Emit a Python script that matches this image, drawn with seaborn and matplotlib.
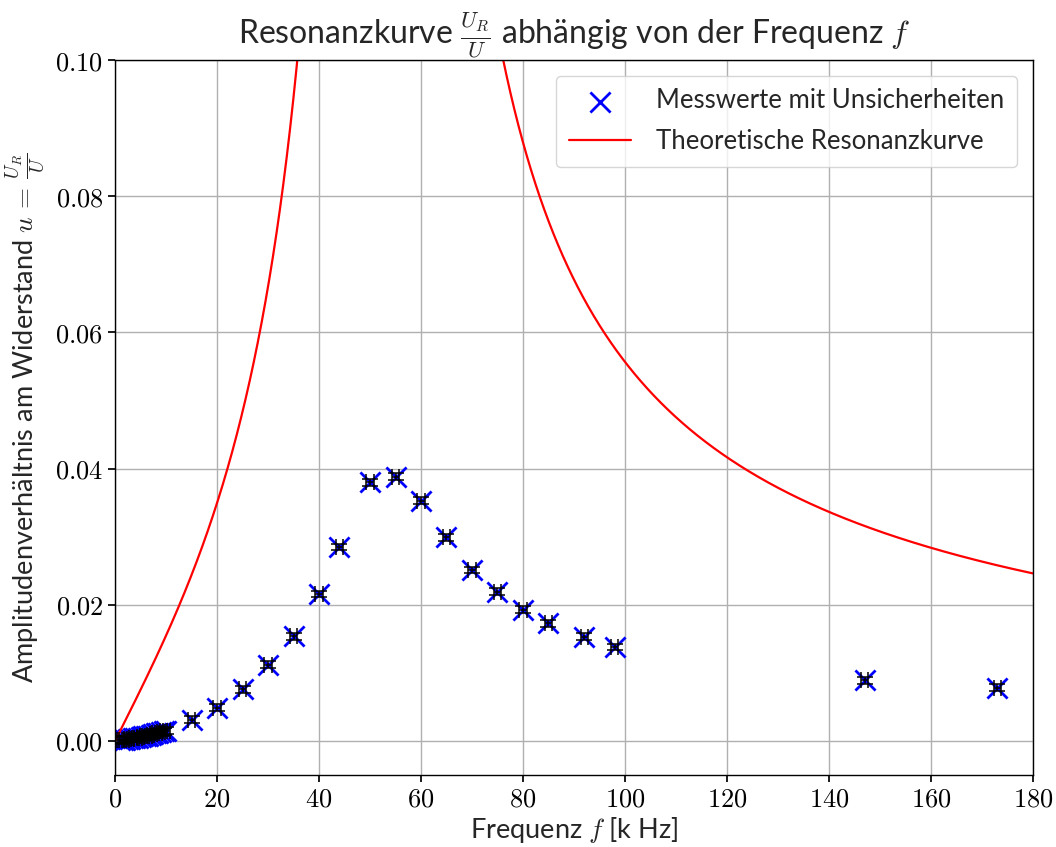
import numpy as np
import matplotlib
matplotlib.use("Agg")
import matplotlib.pyplot as plt
import seaborn as sns

# Measured frequencies [kHz] and amplitude ratios u = U_R / U
freq_khz = [1.0, 1.5, 2.0, 2.5, 3.0, 3.5, 4.0, 4.5, 5.0, 5.5, 6.0, 6.5, 7.0,
            7.5, 8.0, 8.5, 9.0, 9.5, 10.0,
            15, 20, 25, 30, 35, 40, 44, 50, 55, 60, 65, 70, 75, 80, 85, 92, 98,
            147, 173]
ratio_u = [0.0001, 0.0002, 0.0002, 0.0003, 0.0003, 0.0004, 0.0005, 0.0005,
           0.0006, 0.0007, 0.0008, 0.0008, 0.0009, 0.0010, 0.0011, 0.0012,
           0.0013, 0.0014, 0.0015,
           0.0031, 0.0049, 0.0076, 0.0112, 0.0154, 0.0216, 0.0285, 0.0380,
           0.0388, 0.0353, 0.0299, 0.0251, 0.0219, 0.0193, 0.0173, 0.0153,
           0.0138, 0.0089, 0.0078]

# Uncertainties of frequency [kHz] and ratio
freq_err = 0.7
ratio_err = 0.0005

# Circuit parameters of the series RLC resonator
R_ohm = 50.0
L_henry = 1.96e-3
C_farad = 4.75e-9

x_ticks = [0, 20, 40, 60, 80, 100, 120, 140, 160, 180]
y_ticks = [0.00, 0.02, 0.04, 0.06, 0.08, 0.10]

sns.set_theme(style="ticks", rc={
    "axes.grid": True,
    "grid.color": "#b0b0b0",
    "grid.linewidth": 1.0,
    "axes.edgecolor": "black",
    "axes.linewidth": 1.0,
    "xtick.color": "black",
    "ytick.color": "black",
    "xtick.direction": "out",
    "ytick.direction": "out",
    "xtick.major.size": 5,
    "ytick.major.size": 5,
})
plt.rcParams["font.family"] = ["Lato", "DejaVu Sans"]
plt.rcParams["mathtext.fontset"] = "cm"

fig = plt.figure(figsize=(10.56, 8.47), dpi=100)
ax = fig.add_axes([0.109, 0.085, 0.869, 0.844])

# Theoretical resonance curve u(f) = R / |Z(f)|
f_theo = np.linspace(0.05, 180, 3000)
omega = 2 * np.pi * f_theo * 1e3
u_theo = R_ohm / np.sqrt(R_ohm**2 + (omega * L_henry - 1 / (omega * C_farad))**2)

sns.scatterplot(x=freq_khz, y=ratio_u, marker="x", color="blue", s=210,
                linewidth=2.0, ax=ax, zorder=2,
                label="Messwerte mit Unsicherheiten")
ax.errorbar(freq_khz, ratio_u, xerr=freq_err, yerr=ratio_err, fmt="none",
            ecolor="black", elinewidth=1.1, capsize=5.5, capthick=1.1, zorder=3)
sns.lineplot(x=f_theo, y=u_theo, color="red", linewidth=1.6, ax=ax,
             sort=False, zorder=2, label="Theoretische Resonanzkurve")

ax.set_xlim(0, 180)
ax.set_ylim(-0.005, 0.1)
ax.set_xticks(x_ticks)
ax.set_yticks(y_ticks)
ax.set_xticklabels([f"${t}$" for t in x_ticks], fontsize=19)
ax.set_yticklabels([f"${t:.2f}$" for t in y_ticks], fontsize=19)

ax.set_title(r"Resonanzkurve $\frac{U_R}{U}$ abhängig von der Frequenz $f$",
             fontsize=23, pad=8)
ax.set_xlabel(r"Frequenz $f$ [k Hz]", fontsize=19.5, labelpad=2)
ax.set_ylabel(r"Amplitudenverhältnis am Widerstand $u\,=\,\frac{U_R}{U}$",
              fontsize=19.5, labelpad=6)

leg = ax.legend(loc="upper right", fontsize=18.5, frameon=True, fancybox=True,
                edgecolor="#cccccc", framealpha=0.8, borderaxespad=0.6,
                handlelength=2.4, handletextpad=1.0, labelspacing=0.6,
                borderpad=0.5)

fig.savefig("out.png", dpi=100)
